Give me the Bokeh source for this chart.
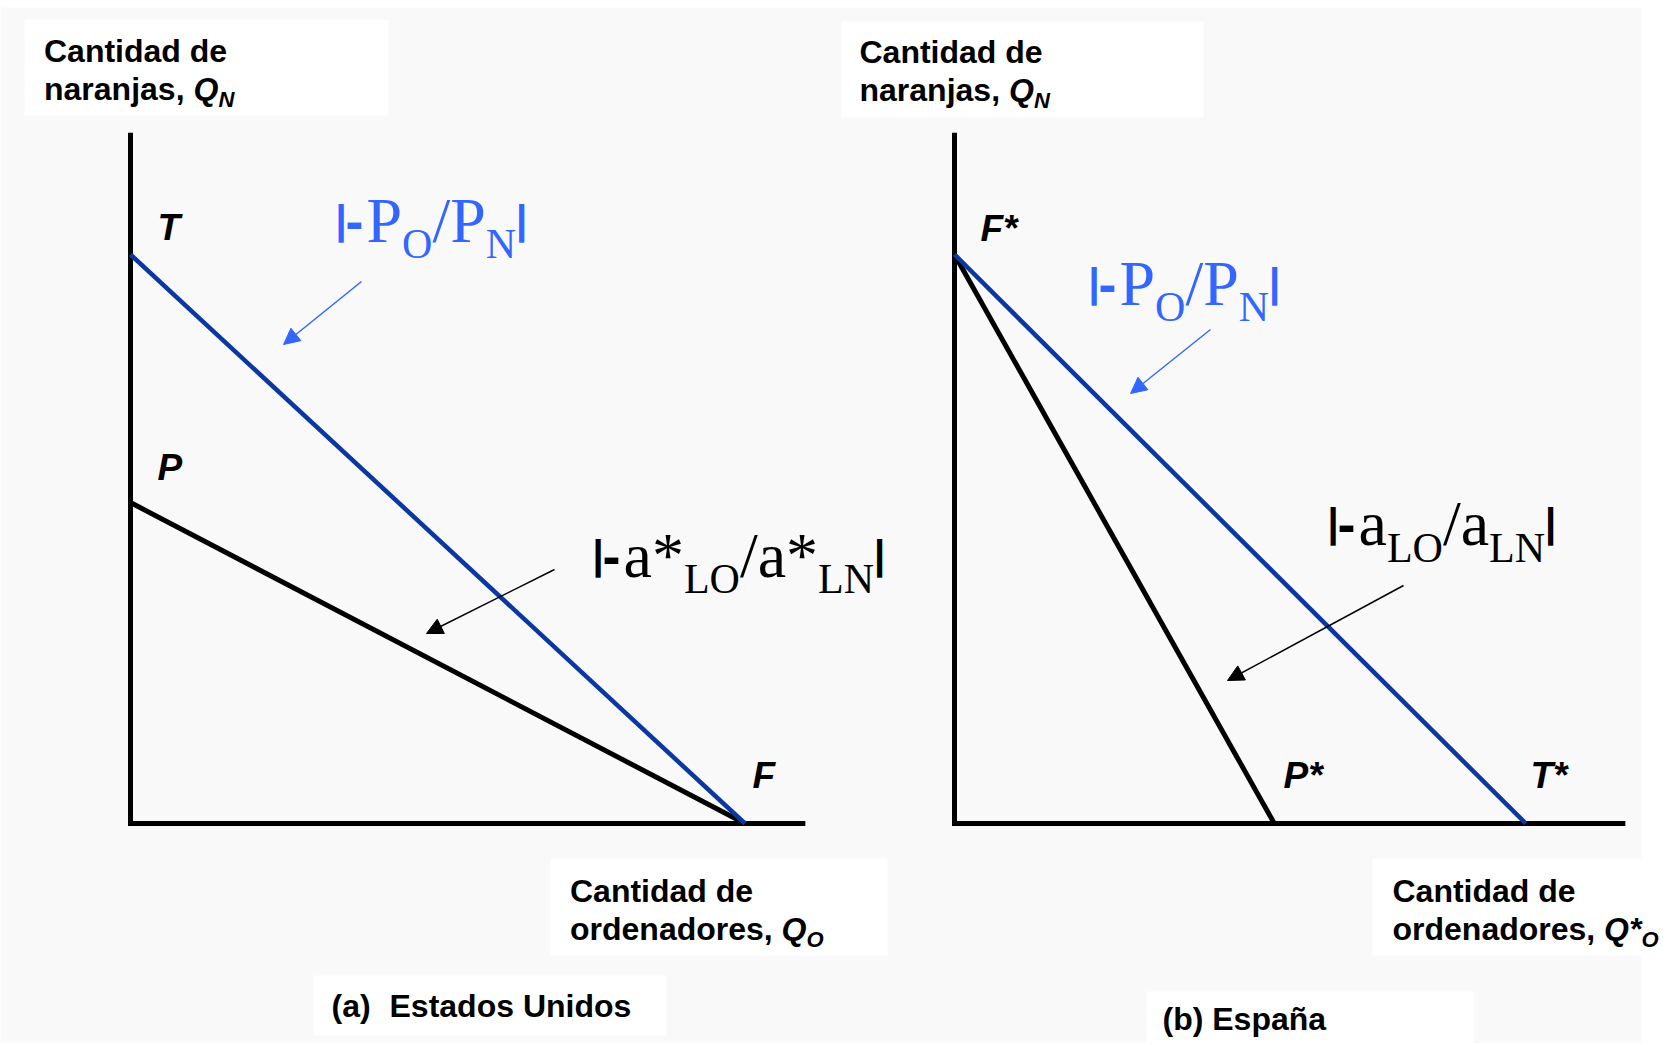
from bokeh.plotting import figure
from bokeh.models import Range1d, Label, Arrow, NormalHead
from bokeh.embed import file_html
from bokeh.resources import INLINE

# ---------------- data (quantities, arbitrary units) ----------------
# (a) Estados Unidos
us_T = 10.0        # Q_N intercept of the relative-price line (T)
us_P = 5.64        # Q_N intercept of the production frontier (P)
us_F = 10.8        # Q_O intercept shared by both lines (F)
# (b) España
es_F = 10.0        # Q_N intercept shared by both lines (F*)
es_P = 5.62        # Q*_O intercept of the production frontier (P*)
es_T = 10.04       # Q*_O intercept of the relative-price line (T*)
axis_top = [12.14, 12.14]     # length of Q_N axis per panel
axis_right = [11.86, 11.79]   # length of Q_O axis per panel

us_ppf_x = [0, us_F]
us_ppf_y = [us_P, 0]
us_price_x = [0, us_F]
us_price_y = [us_T, 0]
es_ppf_x = [0, es_P]
es_ppf_y = [es_F, 0]
es_price_x = [0, es_T]
es_price_y = [es_F, 0]

us_points = ["T", "P", "F"]
es_points = ["F*", "P*", "T*"]
captions = [("(a)", "Estados Unidos"), ("(b) España",)]

# ---------------- layout / style ----------------
K = 56.9                      # pixels per unit
W, H = 1664, 1043
GRAY = "#F9F9F9"
BLUE_LINE = "#0A37A2"
BLUE_TXT = "#3366FF"
SANS = "Liberation Sans"
SERIF = "Liberation Serif"
MID = {SANS: 0.3465, SERIF: 0.3375}   # em distance baseline -> middle

US_O = (130, 823)   # page position of each panel's origin
ES_O = (954, 823)

# white patches of the scanned figure (page pixels: x0, x1, y0, y1)
boxes = [(24, 388, 19, 115), (841, 1203, 21, 117),
         (550, 887, 858, 955), (1372, 1641, 858, 955),
         (313, 666, 975, 1035), (1146, 1473, 991, 1050)]

ADV = {"P": .556, "O": .722, "N": .722, "L": .611, "a": .444, "*": .5, "/": .278}

p = figure(width=W, height=H,
           x_range=Range1d(-US_O[0] / K, (W - US_O[0]) / K),
           y_range=Range1d((US_O[1] - H) / K, US_O[1] / K),
           x_axis_location=None, y_axis_location=None,
           toolbar_location=None, output_backend="svg", min_border=0,
           background_fill_color=GRAY, border_fill_color="white",
           outline_line_color=None)
p.extra_x_ranges = {"es": Range1d(-ES_O[0] / K, (W - ES_O[0]) / K)}
p.xgrid.grid_line_color = None
p.ygrid.grid_line_color = None

X = lambda px: (px - US_O[0]) / K
Y = lambda py: (US_O[1] - py) / K

# scanned-page background
p.quad(left=[X(0)], right=[X(1641)], top=[Y(7)], bottom=[Y(1100)],
       fill_color=GRAY, line_color=None)
p.quad(left=[X(1641)], right=[X(1700)], top=[Y(0)], bottom=[Y(1100)],
       fill_color="white", line_color=None)
p.quad(left=[X(0)], right=[X(1700)], top=[Y(-10)], bottom=[Y(7)],
       fill_color="white", line_color=None)
for (a, b, c, d) in boxes:
    p.quad(left=[X(a)], right=[X(b)], top=[Y(c)], bottom=[Y(d)],
           fill_color="white", line_color=None)


def lab(px, py, text, font=SANS, size=32, style="bold", color="black"):
    # py is the page y of the text baseline
    yb = py - MID[font] * size
    p.add_layout(Label(x=X(px), y=Y(yb), text=text, text_font=font,
                       text_font_size=f"{size}px", text_font_style=style,
                       text_color=color, text_baseline="middle",
                       text_align="left"))


def mathlab(x0, base, runs, color, main=64, sub=42, drop=16):
    x = x0
    for kind, s in runs:
        if kind == "bar":
            lab(x, base - 8.4, s, SANS, 40, "bold", color)
            x += 11
        elif kind == "dash":
            lab(x - 1, base - 2, s, SANS, 54, "bold", color)
            x += 20
        elif kind == "main":
            lab(x, base, s, SERIF, main, "normal", color)
            x += sum(ADV[c] for c in s) * main
        else:
            lab(x, base + drop, s, SERIF, sub, "normal", color)
            x += sum(ADV[c] for c in s) * sub


def arrow(tail, tip, color):
    p.add_layout(Arrow(end=NormalHead(size=16, fill_color=color, line_color=color, line_width=1),
                       x_start=X(tail[0]), y_start=Y(tail[1]),
                       x_end=X(tip[0]), y_end=Y(tip[1]),
                       line_color=color, line_width=1.5))


def axis_titles(yx, yb, xx, xb, qo_star):
    lab(yx, yb, "Cantidad de")
    lab(yx, yb + 38, "naranjas,")
    qx = yx + 4.669 * 32
    lab(qx, yb + 38, "Q", style="bold italic")
    lab(qx + 25, yb + 45, "N", size=22, style="bold italic")
    lab(xx, xb, "Cantidad de")
    lab(xx, xb + 38, "ordenadores,")
    qx = xx + 6.613 * 32
    lab(qx, xb + 38, "Q*" if qo_star else "Q", style="bold italic")
    lab(qx + (37.5 if qo_star else 25), xb + 45, "O", size=22, style="bold italic")


# ---------------- panel (a): Estados Unidos ----------------
p.line([0, 0, axis_right[0]], [axis_top[0], 0, 0], line_width=5, color="black", line_join="miter")
p.line(us_ppf_x, us_ppf_y, line_width=5, color="black")
p.line(us_price_x, us_price_y, line_width=4.5, color=BLUE_LINE)

# ---------------- panel (b): España (own x scale) ----------------
p.line([0, 0, axis_right[1]], [axis_top[1], 0, 0], line_width=5, color="black",
       line_join="miter", x_range_name="es")
p.line(es_ppf_x, es_ppf_y, line_width=5, color="black", x_range_name="es")
p.line(es_price_x, es_price_y, line_width=4.5, color=BLUE_LINE, x_range_name="es")

# ---------------- texts and arrows (page-pixel layout) ----------------
axis_titles(43.5, 62, 569.5, 902, False)
lab(157, 240, us_points[0], size=37, style="bold italic")
lab(157, 480, us_points[1], size=37, style="bold italic")
lab(752, 788, us_points[2], size=37, style="bold italic")
mathlab(335, 242, [("bar", "|"), ("dash", "-"), ("main", "P"), ("sub", "O"),
                   ("main", "/P"), ("sub", "N"), ("bar", "|")], BLUE_TXT)
arrow((361, 281), (283, 344), BLUE_TXT)
mathlab(592, 577, [("bar", "|"), ("dash", "-"), ("main", "a*"), ("sub", "LO"),
                   ("main", "/a*"), ("sub", "LN"), ("bar", "|")], "black")
arrow((554, 569), (426, 633), "black")
lab(331, 1017, captions[0][0])
lab(389, 1017, captions[0][1])

axis_titles(859, 63, 1392, 902, True)
lab(980, 241, es_points[0], size=37, style="bold italic")
lab(1283, 788, es_points[1], size=37, style="bold italic")
lab(1530, 788, es_points[2], size=37, style="bold italic")
mathlab(1088, 305, [("bar", "|"), ("dash", "-"), ("main", "P"), ("sub", "O"),
                    ("main", "/P"), ("sub", "N"), ("bar", "|")], BLUE_TXT)
arrow((1210, 329), (1130, 393), BLUE_TXT)
mathlab(1327, 545, [("bar", "|"), ("dash", "-"), ("main", "a"), ("sub", "LO"),
                    ("main", "/a"), ("sub", "LN"), ("bar", "|")], "black", drop=17)
arrow((1403, 585), (1227, 680), "black")
lab(1162, 1030, captions[1][0])

open("out.html", "w").write(file_html(p, INLINE, "Ventaja comparativa"))
